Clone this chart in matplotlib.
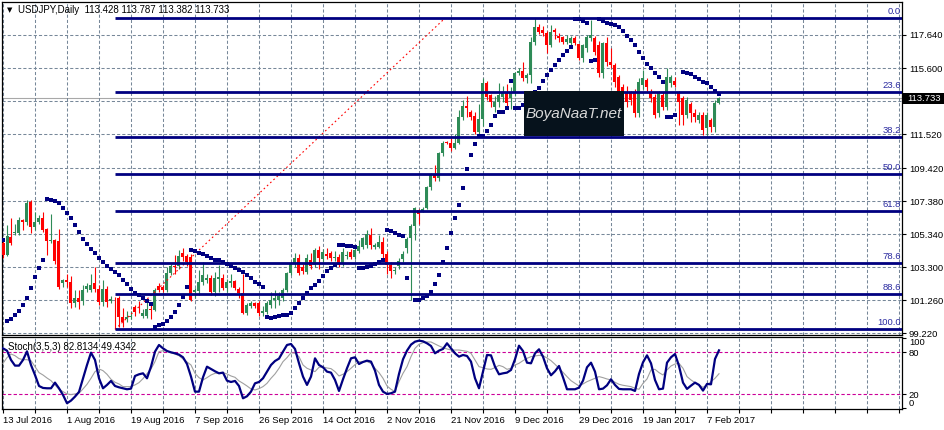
import numpy as np
import matplotlib
matplotlib.use('Agg')
import matplotlib.pyplot as plt
from matplotlib.patches import Rectangle

plt.rcParams['font.family'] = ['Liberation Sans', 'DejaVu Sans']

# daily candles, 13 Jul 2016 .. 10 Feb 2017
opens = [
    104.78, 104.06, 105.20, 105.40, 105.40, 106.20, 106.10, 107.30, 105.80, 106.10,
    106.35, 105.65, 104.90, 105.00, 104.90, 102.30, 102.50, 102.40, 101.10, 101.40,
    101.20, 101.95, 101.90, 102.35, 101.95, 101.15, 101.95, 101.20, 101.30, 101.40,
    100.25, 100.10, 100.25, 100.85, 100.75, 100.30, 100.30, 100.70, 100.65, 102.15,
    102.10, 101.90, 102.95, 103.40, 103.35, 104.20, 104.00, 103.95, 101.80, 101.84,
    102.40, 102.50, 102.62, 101.80, 102.60, 102.65, 102.05, 102.30, 102.45, 101.96,
    101.70, 100.46, 100.90, 101.10, 101.10, 100.50, 100.55, 100.97, 101.30, 101.30,
    101.40, 101.90, 102.93, 103.48, 103.85, 103.34, 103.00, 103.78, 103.44, 104.37,
    103.80, 104.15, 104.17, 103.85, 103.95, 103.50, 104.00, 104.27, 103.95, 104.30,
    104.57, 104.70, 105.30, 104.55, 104.57, 104.88, 104.15, 103.44, 103.05, 103.40,
    103.80, 104.46, 105.10, 105.86, 106.83, 106.80, 106.93, 108.27, 108.99, 108.80,
    110.33, 111.00, 110.99, 110.64, 110.95, 112.60, 113.27, 112.86, 112.65, 111.67,
    112.45, 114.65, 113.93, 113.20, 113.48, 113.80, 114.10, 113.72, 114.10, 115.30,
    115.41, 114.96, 115.20, 117.22, 118.15, 117.94, 117.74, 117.00, 117.94, 117.57,
    117.53, 117.22, 117.12, 117.47, 117.06, 116.19, 116.81, 117.43, 117.43, 117.02,
    115.27, 117.12, 115.99, 115.78, 115.06, 114.45, 114.14, 114.03, 114.14, 112.80,
    114.55, 114.86, 114.03, 113.82, 112.80, 113.93, 113.21, 114.65, 114.80, 114.03,
    113.72, 112.70, 113.35, 112.84, 112.39, 112.70, 111.87, 112.39, 111.93, 113.428,
]
highs = [
    105.10, 105.90, 106.35, 106.00, 106.40, 106.30, 107.45, 107.45, 106.70, 106.50,
    106.70, 105.70, 106.60, 105.05, 105.66, 102.60, 102.90, 102.76, 101.90, 101.90,
    102.20, 102.30, 102.90, 103.30, 102.20, 102.50, 102.14, 101.50, 101.45, 101.50,
    100.80, 100.60, 100.60, 101.00, 101.20, 100.70, 101.30, 101.00, 102.00, 102.30,
    102.20, 103.30, 103.50, 104.06, 104.37, 104.50, 104.10, 104.13, 102.00, 103.13,
    103.60, 102.90, 102.80, 103.00, 103.44, 102.90, 102.60, 102.90, 102.50, 102.10,
    102.90, 101.10, 101.20, 101.15, 101.20, 100.90, 101.20, 101.80, 101.90, 101.80,
    102.00, 103.00, 103.60, 104.20, 104.10, 103.50, 104.10, 104.20, 104.50, 104.60,
    104.40, 104.50, 104.30, 104.30, 104.10, 104.50, 104.30, 104.40, 104.50, 105.00,
    105.20, 105.60, 105.70, 104.80, 105.30, 105.20, 104.30, 103.60, 103.30, 103.90,
    104.30, 105.20, 105.95, 107.00, 106.90, 107.00, 108.30, 109.10, 109.60, 110.40,
    111.10, 111.10, 111.30, 111.50, 113.00, 113.60, 113.90, 113.00, 112.90, 113.40,
    115.00, 114.80, 114.00, 113.90, 114.70, 114.50, 114.60, 114.40, 115.35, 115.60,
    116.00, 115.30, 117.50, 118.66, 118.30, 118.20, 117.90, 118.25, 118.10, 117.74,
    117.60, 117.64, 117.60, 117.60, 117.10, 117.10, 117.64, 118.56, 117.60, 117.30,
    117.20, 117.53, 116.81, 115.90, 115.20, 114.60, 114.50, 114.20, 114.30, 114.96,
    115.47, 115.00, 114.30, 114.00, 114.20, 114.10, 115.60, 115.20, 115.06, 114.20,
    113.90, 113.80, 113.50, 113.10, 112.90, 112.90, 112.90, 112.50, 113.60, 113.787,
]
lows = [
    103.90, 104.00, 104.70, 105.30, 105.30, 105.60, 105.90, 105.40, 105.60, 106.00,
    105.50, 104.06, 104.80, 103.50, 101.96, 102.10, 102.10, 100.77, 100.85, 100.70,
    101.00, 101.80, 101.80, 101.80, 100.97, 100.90, 100.85, 101.10, 99.50, 99.60,
    99.60, 99.90, 100.10, 100.30, 100.50, 100.20, 100.20, 100.10, 100.60, 101.75,
    101.80, 101.80, 102.80, 102.90, 103.20, 103.70, 103.40, 101.20, 101.40, 101.60,
    102.20, 102.30, 101.60, 101.50, 101.80, 101.90, 101.80, 102.10, 101.90, 101.40,
    100.40, 100.35, 100.80, 100.80, 100.30, 100.30, 100.40, 100.80, 100.80, 101.00,
    101.20, 101.80, 102.80, 103.30, 102.80, 102.90, 102.90, 103.20, 103.30, 103.20,
    103.60, 103.80, 103.70, 103.70, 103.30, 103.40, 103.80, 103.80, 103.80, 104.20,
    104.40, 104.50, 104.40, 104.40, 104.50, 103.90, 102.90, 102.62, 102.90, 103.20,
    103.60, 104.20, 101.27, 105.00, 106.00, 106.70, 106.90, 108.10, 108.60, 108.60,
    110.20, 110.90, 110.50, 110.60, 110.90, 112.40, 112.60, 112.40, 111.50, 111.50,
    112.00, 113.60, 113.20, 112.90, 113.20, 113.50, 113.20, 113.10, 113.90, 115.20,
    114.80, 114.70, 114.70, 117.00, 117.70, 117.60, 116.50, 116.90, 117.40, 117.20,
    117.10, 117.10, 117.00, 117.00, 116.10, 115.99, 116.60, 117.30, 116.40, 115.06,
    114.96, 115.70, 115.60, 114.45, 113.60, 113.40, 113.20, 113.30, 112.60, 112.60,
    114.30, 114.20, 113.50, 112.50, 112.60, 113.00, 113.00, 114.40, 114.45, 112.10,
    112.08, 112.50, 112.28, 112.28, 112.20, 111.46, 111.46, 111.67, 111.67, 113.382,
]
closes = [
    104.06, 105.23, 104.80, 105.50, 106.20, 106.10, 107.27, 105.80, 106.10, 106.35,
    105.60, 104.90, 105.00, 103.70, 102.10, 102.50, 102.40, 101.07, 101.40, 101.15,
    101.90, 102.15, 102.20, 101.95, 101.15, 101.95, 101.15, 101.35, 101.25, 100.25,
    99.95, 100.25, 100.32, 100.55, 100.70, 100.50, 100.70, 100.65, 101.90, 101.90,
    101.90, 102.95, 103.40, 103.30, 104.00, 103.95, 103.65, 101.28, 101.90, 102.40,
    102.80, 102.65, 101.80, 102.62, 102.68, 102.05, 102.37, 102.45, 102.00, 101.70,
    100.46, 100.97, 101.10, 100.90, 100.46, 100.60, 101.10, 101.30, 101.40, 101.50,
    101.90, 102.93, 103.48, 103.85, 102.93, 103.10, 103.85, 103.40, 104.37, 103.85,
    104.27, 104.00, 103.85, 103.95, 103.44, 104.27, 104.06, 103.95, 104.37, 104.60,
    105.09, 105.35, 104.70, 104.65, 104.88, 104.15, 103.44, 103.10, 103.12, 103.70,
    104.10, 105.04, 105.86, 106.93, 106.62, 106.90, 108.27, 108.99, 108.79, 110.33,
    110.95, 110.97, 110.64, 110.99, 112.60, 113.27, 113.15, 112.60, 111.67, 112.45,
    114.65, 113.83, 113.48, 113.50, 113.93, 114.10, 113.42, 114.14, 115.27, 115.40,
    114.96, 115.20, 117.22, 118.15, 117.84, 117.74, 117.02, 117.84, 117.84, 117.43,
    117.22, 117.38, 117.47, 117.12, 116.19, 117.02, 117.53, 117.64, 116.61, 115.27,
    117.12, 115.99, 115.78, 114.75, 114.14, 113.72, 113.52, 113.60, 112.80, 114.75,
    114.96, 114.45, 113.72, 112.70, 114.03, 113.21, 115.06, 115.06, 114.55, 113.52,
    112.70, 113.62, 112.80, 112.59, 112.70, 111.77, 112.70, 111.93, 113.42, 113.733,
]

# parabolic SAR dots (None = not visible)
sar = [
    105.00, 99.99, 100.10, 100.35, 100.60, 100.97, 101.40, 102.04, 102.68, 103.26,
    103.75, 107.52, 107.46, 107.40, 107.25, 106.94, 106.63, 106.36, 105.91, 105.48,
    105.03, 104.74, 104.43, 104.16, 103.86, 103.65, 103.38, 103.21, 103.01, 102.81,
    102.52, 102.25, 101.96, 101.73, 101.57, 101.39, 101.24, 101.04, 99.63, 99.72,
    99.78, 100.00, 100.23, 100.56, 100.97, 101.49, 102.10, 104.37, 104.33, 104.20,
    104.13, 104.00, 103.90, 103.75, 103.72, 103.60, 103.50, 103.37, 103.27, 103.16,
    103.00, 102.81, 102.62, 102.39, 102.27, 102.06, 100.25, 100.20, 100.25, 100.30,
    100.33, 100.37, 100.50, 100.81, 101.12, 101.43, 101.73, 102.00, 102.21, 102.45,
    102.76, 103.07, 103.26, 103.46, 104.68, 104.68, 104.62, 104.62, 104.55, 103.26,
    103.26, 103.32, 103.38, 103.50, 103.65, 103.75, 105.60, 105.54, 105.44, 105.31,
    105.23, 102.64, None, 101.28, 101.28, 101.40, 101.52, 101.77, 102.27, 102.81,
    103.65, 104.49, 105.42, 106.33, 107.15, 108.20, 109.35, 110.23, 110.91, 111.42,
    111.42, 111.71, 112.08, 112.66, 112.89, 112.89, 113.12, 114.80, 113.12, 113.12,
    113.30, 113.50, 113.80, 114.10, 114.35, 114.80, 115.17, 115.48, 115.78, 116.09,
    116.40, 116.67, 116.91, 118.63, 118.63, 118.50, 118.40, 116.05, 116.10, 118.63,
    118.50, 118.40, 118.32, 118.26, 118.12, 117.89, 117.60, 117.35, 117.05, 116.62,
    116.20, 115.83, 115.58, 115.31, 115.03, 114.76, 112.56, 112.60, 112.70, None,
    115.38, 115.31, 115.23, 115.07, 114.92, 114.76, 114.66, 114.41, 114.20, 113.98,
]

# Stoch(3,5,3): main (%K) and signal (%D)
stoch_k = [
    85.7, 82.4, 69.1, 61.0, 61.0, 69.1, 81.4, 61.9, 47.6, 31.9,
    29.1, 28.6, 28.6, 36.7, 28.6, 19.1, 7.2, 11.0, 16.7, 23.4,
    42.9, 61.9, 79.5, 69.1, 42.9, 28.6, 33.4, 39.1, 31.9, 30.0,
    28.6, 27.2, 28.1, 46.2, 48.6, 50.0, 42.9, 59.5, 81.0, 90.5,
    85.7, 81.9, 80.0, 78.6, 76.7, 72.9, 63.3, 45.3, 23.8, 23.8,
    44.3, 59.5, 56.2, 52.9, 50.0, 51.0, 39.5, 37.6, 39.1, 31.9,
    14.3, 17.2, 23.8, 35.7, 37.6, 42.9, 52.4, 61.9, 67.6, 71.0,
    81.0, 90.5, 91.9, 84.8, 64.3, 45.3, 33.4, 45.3, 71.4, 61.9,
    58.6, 52.4, 51.0, 40.5, 24.8, 41.5, 57.2, 71.4, 72.9, 63.3,
    66.2, 68.1, 66.7, 53.8, 33.4, 23.8, 20.5, 21.5, 23.8, 49.1,
    70.0, 82.4, 91.0, 95.2, 96.7, 95.7, 92.9, 89.1, 78.6, 82.4,
    84.8, 92.9, 85.7, 78.6, 73.8, 76.2, 74.8, 66.7, 42.9, 28.6,
    52.4, 76.2, 75.7, 59.5, 48.6, 50.0, 51.0, 54.8, 70.0, 89.5,
    81.9, 65.2, 64.3, 78.6, 84.3, 73.8, 57.2, 47.2, 52.9, 60.5,
    44.3, 27.2, 27.2, 27.2, 29.5, 39.5, 58.6, 65.2, 52.4, 27.2,
    28.1, 32.9, 41.5, 33.4, 27.7, 27.2, 27.2, 27.2, 24.8, 49.1,
    65.7, 75.7, 64.3, 40.5, 27.2, 28.1, 65.2, 72.9, 77.6, 60.5,
    36.7, 27.7, 32.4, 36.7, 33.4, 25.3, 34.8, 34.3, 70.5, 82.8,
]
stoch_d = [
    64.3, 72.4, 77.6, 75.2, 71.0, 69.5, 69.5, 68.1, 59.5, 51.0,
    47.6, 43.3, 39.5, 33.4, 27.2, 23.8, 20.5, 19.6, 20.5, 21.5,
    27.7, 34.3, 42.9, 52.4, 56.2, 53.8, 48.6, 41.5, 37.2, 34.8,
    31.0, 31.0, 31.0, 33.4, 36.7, 42.4, 49.5, 56.2, 66.7, 81.0,
    82.4, 81.4, 79.5, 77.6, 75.2, 70.5, 66.2, 61.9, 50.0, 43.8,
    40.5, 43.8, 47.6, 50.0, 50.5, 51.0, 49.1, 46.2, 44.3, 39.1,
    35.7, 31.9, 27.7, 26.2, 28.1, 31.0, 35.7, 42.9, 49.1, 57.2,
    66.7, 72.4, 79.5, 78.6, 73.8, 61.9, 57.2, 54.8, 52.4, 58.6,
    59.1, 57.6, 56.7, 52.4, 46.2, 48.6, 52.4, 57.2, 62.4, 66.7,
    66.7, 66.7, 64.3, 57.2, 51.0, 42.9, 31.9, 27.2, 23.8, 38.1,
    50.0, 59.5, 73.8, 85.7, 91.4, 93.8, 94.8, 94.8, 91.9, 89.1,
    86.7, 84.8, 83.3, 83.3, 83.3, 82.4, 81.4, 78.6, 69.1, 59.5,
    58.1, 56.2, 55.7, 58.1, 61.4, 59.5, 55.7, 57.2, 61.9, 64.3,
    68.1, 71.4, 73.8, 74.8, 75.7, 75.2, 71.9, 68.1, 62.9, 57.2,
    51.4, 45.3, 39.5, 35.7, 31.9, 34.8, 38.1, 40.5, 42.9, 45.3,
    43.8, 41.9, 40.5, 37.2, 34.3, 32.9, 31.9, 31.0, 28.6, 27.2,
    35.7, 41.9, 54.8, 55.7, 51.0, 47.6, 54.8, 60.5, 63.3, 64.3,
    57.2, 45.3, 40.5, 36.7, 33.4, 30.0, 33.4, 38.1, 42.9, 49.4,
]

fib_labels = ['0.0', '23.6', '38.2', '50.0', '61.8', '78.6', '88.6', '100.0']
fib_prices = [118.69, 114.14, 111.33, 109.06, 106.79, 103.56, 101.64, 99.47]
fib_start_bar = 28
trend_bars = [28, 110.5]
trend_prices = [99.47, 118.68]

price_ticks = [99.22, 101.26, 103.30, 105.34, 107.38, 109.42, 111.52, 113.56, 115.60, 117.64]
last_price = 113.733
date_labels = ['13 Jul 2016', '1 Aug 2016', '19 Aug 2016', '7 Sep 2016', '26 Sep 2016',
               '14 Oct 2016', '2 Nov 2016', '21 Nov 2016', '9 Dec 2016', '29 Dec 2016',
               '19 Jan 2017', '7 Feb 2017']

W, H = 945, 430
def box(x0, y0, x1, y1):
    return [x0 / W, 1 - y1 / H, (x1 - x0) / W, (y1 - y0) / H]

GRID = '#778899'
DASH = (0, (3, 2))
fig = plt.figure(figsize=(W / 100, H / 100), dpi=100)
ax = fig.add_axes(box(2, 2, 902, 335))
ax2 = fig.add_axes(box(2, 337, 902, 409))

# ---- price panel
o, h, l, c = (np.array(a, dtype=float) for a in (opens, highs, lows, closes))
x = np.arange(len(o))
up = c >= o
cols = np.where(up, '#2e8b57', '#ff0000')
ax.axhline(last_price, color='#a8a8a8', lw=0.8, zorder=1)
ax.vlines(x, l, h, colors=cols, lw=0.8, zorder=3)
ax.bar(x, np.maximum(np.abs(c - o), 0.05), bottom=np.minimum(o, c), width=0.75,
       color=cols, linewidth=0, zorder=3)
sar_arr = np.array([np.nan if v is None else v for v in sar])
ax.plot(np.arange(len(sar_arr)), sar_arr, 's', color='#000080', ms=2.5, mew=0, zorder=5)
ax.plot(trend_bars, trend_prices, color='red', lw=0.8, ls=(0, (1.5, 2.5)), zorder=4)
ax.hlines(fib_prices, fib_start_bar, 224.75, color='#000080', lw=2, zorder=6)
for lab, p in zip(fib_labels, fib_prices):
    ax.annotate(lab, (224.5, p), xytext=(0, 1.5), textcoords='offset points',
                ha='right', va='bottom', color='#2a2aa0', fontsize=6.8, zorder=7)

ax.set_xlim(-0.25, 224.75)
ax.set_ylim(99.12, 119.677)
ax.set_xticks(np.arange(0, 225, 8))
ax.set_yticks(price_ticks)
ax.set_yticklabels(['' if abs(t - 113.56) < 0.01 else f'{t:.3f}' for t in price_ticks])
ax.yaxis.tick_right()
ax.tick_params(axis='x', length=0, labelbottom=False)
ax.tick_params(axis='y', length=3, pad=2, labelsize=6.8, width=0.8)
ax.grid(True, color=GRID, ls=DASH, lw=0.75, zorder=0)
for s in ax.spines.values():
    s.set_linewidth(0.9)

# ---- stochastic panel
k = np.array(stoch_k)
d = np.array(stoch_d)
ax2.plot(np.arange(len(d)), d, color='#a0a0a0', lw=0.8, zorder=3)
ax2.plot(np.arange(len(k)), k, color='#000080', lw=1.6, zorder=4)
for lev in (20, 80):
    ax2.axhline(lev, color='#cc0099', ls=DASH, lw=0.8, zorder=2)
ax2.set_xlim(-0.25, 224.75)
ax2.set_ylim(-1.0, 101.9)
ticks = np.arange(0, 225, 8)
ax2.set_xticks(ticks)
ax2.set_xticklabels([date_labels[t // 16] if t % 16 == 0 and t // 16 < len(date_labels) else ''
                     for t in ticks], ha='left')
ax2.tick_params(axis='x', length=3, pad=2, labelsize=6.8, width=0.8)
ax2.grid(True, axis='x', color=GRID, ls=DASH, lw=0.75, zorder=0)
ax2.yaxis.tick_right()
ax2.set_yticks([0, 20, 80, 100])
ax2.set_yticklabels(['0', '20', '80', '100'])
ax2.tick_params(axis='y', length=3, pad=2, labelsize=6.8, width=0.8)
ylabs = ax2.get_yticklabels()
ylabs[0].set_va('bottom')
ylabs[3].set_va('top')
for s in ax2.spines.values():
    s.set_linewidth(0.9)

# ---- texts
fig.text(7 / W, 1 - 10 / H, '\u25bc', fontsize=5, va='center', family=['DejaVu Sans'])
fig.text(18 / W, 1 - 10 / H, 'USDJPY,Daily  113.428 113.787 113.382 113.733',
         fontsize=7, va='center')
fig.text(8 / W, 1 - 347 / H, 'Stoch(3,5,3) 82.8134 49.4342', fontsize=7, va='center')

# current price tag
fig.add_artist(Rectangle((903 / W, 1 - 104 / H), 42 / W, 11 / H, transform=fig.transFigure,
                         facecolor='black', edgecolor='none', zorder=10))
fig.text(907 / W, 1 - 98.5 / H, '113.733', color='white', fontsize=6.8, va='center', zorder=11)

# watermark
fig.add_artist(Rectangle((524 / W, 1 - 136 / H), 100 / W, 45 / H, transform=fig.transFigure,
                         facecolor='#06121c', edgecolor='none', zorder=10))
fig.text(574 / W, 1 - 114 / H, 'BoyaNaaT.net', color='#d9d9d9', fontsize=11, style='italic',
         ha='center', va='center', zorder=11)

fig.savefig('out.png', dpi=100)
